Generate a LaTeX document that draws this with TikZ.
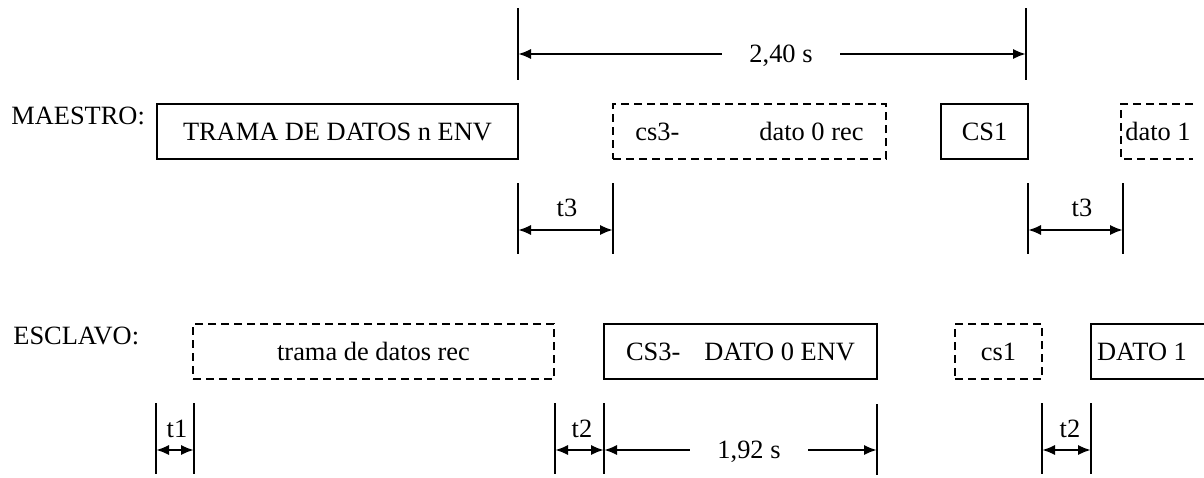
\documentclass[tikz,border=0pt]{standalone}
\usepackage{fontspec}
\setmainfont{Liberation Serif}
\usetikzlibrary{arrows.meta}
\tikzset{
  every node/.style={font=\fontsize{13.2}{15}\selectfont, inner sep=0pt},
  box/.style={draw, line width=1pt, rectangle, minimum height=27.5pt},
  dbox/.style={box, dash pattern=on 4pt off 2.5pt},
  dashline/.style={line width=1pt, dash pattern=on 4pt off 2.5pt},
  tick/.style={line width=1pt},
  dimarrow/.style={line width=1.3pt, -{Latex[length=6.5pt,width=5.2pt]}},
  dimboth/.style={line width=1.3pt, {Latex[length=6.5pt,width=5.2pt]}-{Latex[length=6.5pt,width=5.2pt]}},
  dimlabel/.style={text height=8.9pt, text depth=0pt},
}
\begin{document}
\begin{tikzpicture}[x=0.5pt,y=-0.5pt]
\useasboundingbox (0,0) rectangle (1204,477);

% row labels
\node[anchor=west] (maestro) at (11,116) {MAESTRO:};
\node[anchor=west] (esclavo) at (13,336) {ESCLAVO:};

% MAESTRO row
\node[box, minimum width=180.5pt] (trama) at (337.5,131.5) {TRAMA DE DATOS n ENV};
\node[dbox, minimum width=136.5pt] (cs3rec) at (749.5,131.5) {cs3-\hspace{40pt}dato 0 rec};
\node[box, minimum width=43.5pt] (cs1env) at (984.5,131.5) {CS1};
\node (dato1rec) at (1158,131.5) {dato 1};
\draw[dashline] (1193,104) -- (1121,104) -- (1121,159) -- (1193,159);

% ESCLAVO row
\node[dbox, minimum width=180.5pt] (tramarec) at (373.5,351.5) {trama de datos rec};
\node[box, minimum width=136.5pt] (cs3env) at (740.5,351.5) {CS3-\hspace{12pt}DATO 0 ENV};
\node[dbox, minimum width=43.5pt] (cs1rec) at (998.5,351.5) {cs1};
\node (dato1env) at (1142,351.5) {DATO 1};
\draw[line width=1pt] (1204,324) -- (1091,324) -- (1091,379) -- (1204,379);

% 2,40 s dimension
\coordinate (v1t) at (518,8);   \coordinate (v1b) at (518,80);
\coordinate (v2t) at (1026,8);  \coordinate (v2b) at (1026,80);
\draw[tick] (v1t) -- (v1b);
\draw[tick] (v2t) -- (v2b);
\coordinate (d240l) at (518,54); \coordinate (d240r) at (1026,54);
\node[dimlabel, minimum width=59pt] (l240) at (781,54) {2,40 s};
\draw[dimarrow] (l240.west) -- (d240l);
\draw[dimarrow] (l240.east) -- (d240r);

% t3 left
\coordinate (t3at) at (518,183); \coordinate (t3ab) at (518,254);
\coordinate (t3bt) at (613,183); \coordinate (t3bb) at (613,254);
\draw[tick] (t3at) -- (t3ab);
\draw[tick] (t3bt) -- (t3bb);
\coordinate (t3al) at (518,230); \coordinate (t3ar) at (613,230);
\draw[dimboth] (t3al) -- (t3ar);
\node[dimlabel] (lt3a) at (567,208) {t3};

% t3 right
\coordinate (t3ct) at (1028,183); \coordinate (t3cb) at (1028,254);
\coordinate (t3dt) at (1123,183); \coordinate (t3db) at (1123,254);
\draw[tick] (t3ct) -- (t3cb);
\draw[tick] (t3dt) -- (t3db);
\coordinate (t3cl) at (1028,230); \coordinate (t3cr) at (1123,230);
\draw[dimboth] (t3cl) -- (t3cr);
\node[dimlabel] (lt3b) at (1082,208) {t3};

% t1
\coordinate (t1at) at (156,403); \coordinate (t1ab) at (156,474);
\coordinate (t1bt) at (194,403); \coordinate (t1bb) at (194,474);
\draw[tick] (t1at) -- (t1ab);
\draw[tick] (t1bt) -- (t1bb);
\coordinate (t1l) at (156,450); \coordinate (t1r) at (194,450);
\draw[dimboth] (t1l) -- (t1r);
\node[dimlabel] (lt1) at (177,429) {t1};

% t2 left
\coordinate (t2at) at (555,403); \coordinate (t2ab) at (555,474);
\coordinate (t2bt) at (604,403); \coordinate (t2bb) at (604,474);
\draw[tick] (t2at) -- (t2ab);
\draw[tick] (t2bt) -- (t2bb);
\coordinate (t2al) at (555,450); \coordinate (t2ar) at (604,450);
\draw[dimboth] (t2al) -- (t2ar);
\node[dimlabel] (lt2a) at (582,429) {t2};

% 1,92 s dimension
\coordinate (v3t) at (877,404); \coordinate (v3b) at (877,475);
\draw[tick] (v3t) -- (v3b);
\coordinate (d192r) at (877,450);
\node[dimlabel, minimum width=59pt] (l192) at (749,450) {1,92 s};
\draw[dimarrow] (l192.west) -- (t2ar);
\draw[dimarrow] (l192.east) -- (d192r);

% t2 right
\coordinate (t2ct) at (1042,403); \coordinate (t2cb) at (1042,474);
\coordinate (t2dt) at (1091,403); \coordinate (t2db) at (1091,474);
\draw[tick] (t2ct) -- (t2cb);
\draw[tick] (t2dt) -- (t2db);
\coordinate (t2cl) at (1042,450); \coordinate (t2cr) at (1091,450);
\draw[dimboth] (t2cl) -- (t2cr);
\node[dimlabel] (lt2b) at (1070,429) {t2};
\end{tikzpicture}
\end{document}
